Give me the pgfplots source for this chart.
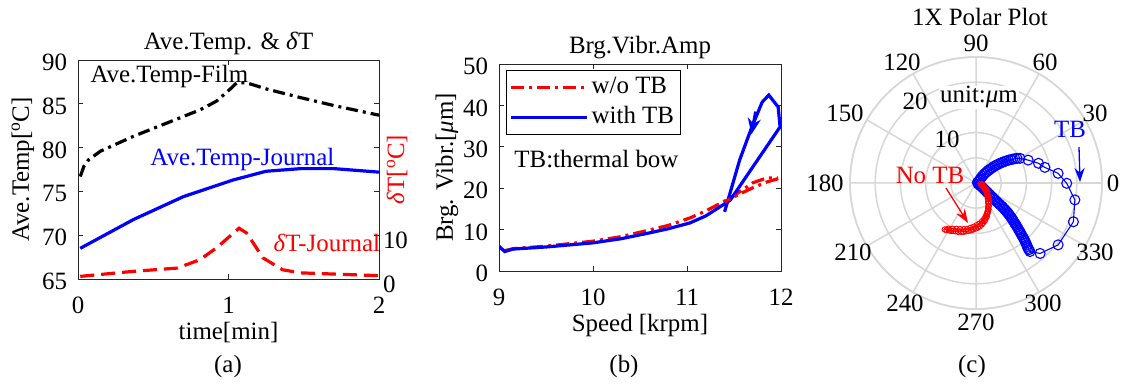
\documentclass[border=0pt]{standalone}
\usepackage{fontspec}
\setmainfont{Liberation Serif}
\usepackage{pgfplots}
\pgfplotsset{compat=1.18}
\usepgfplotslibrary{polar}
\usetikzlibrary{arrows.meta}
\definecolor{axgray}{RGB}{38,38,38}
\definecolor{gridgray}{RGB}{215,215,215}
\newcommand{\fs}{\fontsize{25}{29}\selectfont}
\begin{document}
\fs
\begin{tikzpicture}
\useasboundingbox (0bp,0bp) rectangle (1122bp,385bp);
\fill[white] (0bp,0bp) rectangle (1122bp,385bp);
\pgfplotsset{
  mybox/.style={scale only axis, anchor=south west,
    axis line style={axgray, line width=0.9bp},
    tick style={axgray, line width=0.9bp}, major tick length=5bp,
    /pgf/number format/assume math mode=true,
    font=\fs, tick label style={font=\fs},
    xticklabel style={anchor=base, yshift=-35bp},
    yticklabel style={xshift=-2.5bp, yshift=-2.5bp},
    title style={anchor=base, at={(axis description cs:0.5,1)}, yshift=5bp},
  },
}
% ---------------- panel (a), left axis
\begin{axis}[mybox, at={(78bp,106bp)}, width=301bp, height=219bp,
  xmin=0, xmax=2, ymin=65, ymax=90, xtick={0,1,2}, ytick={65,70,...,90},
  ytick pos=left,
  title={Ave.Temp. \& \textit{δ}T},
  xlabel={time[min]}, ylabel={Ave.Temp[\textsuperscript{o}C]},
  every axis x label/.style={at={(axis description cs:0.5,0)}, anchor=base, yshift=-60bp},
  every axis y label/.style={at={(axis description cs:0,0.5)}, xshift=-55bp, rotate=90, anchor=center},
]
\addplot[black, line width=3.2bp, dash pattern=on 12bp off 5bp on 3bp off 5bp] coordinates {
 (0.015,76.7) (0.04,77.9) (0.07,78.6) (0.15,79.6) (0.37,81.3) (0.59,82.8) (0.81,84.3) (0.92,85.3) (1.0,86.5) (1.055,87.4) (1.12,87.4) (1.25,86.7) (1.48,85.7) (1.70,84.8) (2.0,83.7)};
\addplot[blue, line width=3.2bp] coordinates {
 (0.015,68.5) (0.37,71.8) (0.70,74.4) (1.03,76.3) (1.25,77.3) (1.48,77.6) (1.70,77.6) (2.0,77.2)};
\node[anchor=base west, black] at (axis cs:0.027,87.4) {Ave.Temp-Film};
\node[anchor=base west, blue] at (axis cs:0.425,78.0) {Ave.Temp-Journal};
\node[anchor=base west, red] at (axis cs:1.243,68.1) {\textit{δ}T-Journal};
\end{axis}
% ---------------- panel (a), right axis
\begin{axis}[mybox, at={(78bp,106bp)}, width=301bp, height=219bp,
  xmin=0, xmax=2, ymin=0, ymax=50, axis x line=none, axis y line*=right,
  ytick={0,10,20,30,40,50}, yticklabels={0,10,{},{},{},{}},
  yticklabel style={xshift=-2bp, yshift=-2.5bp},
  ylabel={\textit{δ}T[\textsuperscript{o}C]},
  every axis y label/.style={at={(axis description cs:1,0.5)}, xshift=18bp, rotate=90, anchor=center, red},
]
\addplot[red, line width=3.2bp, dash pattern=on 14bp off 7bp] coordinates {
 (0.015,0.6) (0.37,1.75) (0.66,2.5) (0.81,4.4) (0.92,7.1) (1.07,11.6) (1.12,10.5) (1.23,4.8) (1.36,2.1) (1.48,1.4) (2.0,0.76)};
\end{axis}
\node[anchor=base] at (228bp,13bp) {(a)};
% ---------------- panel (b)
\begin{axis}[mybox, at={(499bp,114bp)}, width=282bp, height=207bp,
  xmin=9, xmax=12, ymin=0, ymax=50, xtick={9,10,11,12}, ytick={0,10,...,50},
  title={Brg.Vibr.Amp},
  xlabel={Speed [krpm]}, ylabel={Brg. Vibr.[\textit{μ}m]},
  every axis x label/.style={at={(axis description cs:0.5,0)}, anchor=base, yshift=-60bp},
  every axis y label/.style={at={(axis description cs:0,0.5)}, xshift=-52bp, rotate=90, anchor=center},
  legend cell align=left,
  legend style={at={(axis description cs:0.025,0.971)}, anchor=north west, draw=black, line width=0.9bp, fill=white,
    font=\fs, inner xsep=3bp, inner ysep=4bp, row sep=3bp, nodes={inner sep=3bp}},
  legend image code/.code={\draw[#1] (0bp,0bp) -- (76bp,0bp);},
]
\addplot[red, line width=3.2bp, dash pattern=on 13bp off 5bp on 3bp off 5bp] coordinates {
 (9.06,4.9) (9.15,5.4) (9.5,6.0) (10,7.2) (10.3,8.3) (10.6,9.9) (10.8,11.0) (11.03,12.8) (11.2,14.5) (11.46,17.6) (11.7,21.3) (11.85,22.5) (11.97,22.5)};
\addlegendentry{w/o TB}
\addplot[blue, line width=3.2bp] coordinates {
 (9,6.0) (9.06,4.7) (9.15,5.3) (9.5,5.8) (10,6.8) (10.3,7.8) (10.6,9.2) (10.8,10.2) (11.03,11.6) (11.2,13.3) (11.46,17.1) (11.72,25.8) (11.99,34.8) (11.97,39.6) (11.87,42.5) (11.80,40.8) (11.69,34.8) (11.56,26.8) (11.40,14.3)};
\addlegendentry{with TB}
\addplot[red, line width=3.2bp, dash pattern=on 13bp off 5bp on 3bp off 5bp, forget plot] coordinates {
 (11.97,22.3) (11.85,21.5) (11.7,20.1) (11.55,18.5) (11.4,16.7)};
\addplot[blue, line width=3bp, -{Stealth[length=16bp,width=13bp]}, forget plot] coordinates {(11.73,38.5) (11.685,33)};
\node[anchor=base west] at (axis cs:9.074,24.9) {TB:thermal bow};
\end{axis}
\node[anchor=base] at (624bp,13bp) {(b)};
% ---------------- panel (c)
\begin{polaraxis}[at={(976bp,202bp)}, anchor=center, width=252bp, height=252bp, scale only axis,
  ymin=0, ymax=25, ytick={5,10,15,20,25}, yticklabels={}, xtick={0,30,...,330}, xticklabels={},
  grid=major, major grid style={draw=gridgray, line width=1.5bp},
  axis line style={draw=gridgray, line width=1.5bp}, tick style={draw=none}, clip=false]
\addplot[blue, mark=o, mark size=5bp, line width=1.1bp, mark options={line width=1.1bp}] coordinates {
 (20,0.3) (30,0.6) (38,0.9) (43,1.2) (46,1.5) (47,1.9) (47.5,2.3) (47,2.7) (46.5,3.1) (45.5,3.5) (44.5,3.9) (43.8,4.3) (43,4.7) (42,5.1) (41,5.5) (40,5.9) (39,6.3) (38,6.7) (37,7.1) (36,7.5) (35,7.9) (34,8.3) (33,8.7) (32,9.1) (31,9.5) (29.3,10.0)
 (23.7,11.3) (17.5,13.0) (12.8,14.0) (6.7,16.4) (-0.2,18.0) (-9.7,19.9) (-21.7,20.8) (-37,20.4) (-47.7,18.9) (-51.8,17.3)
 (-51.6,16.9) (-51.5,16.6) (-51.1,16.2) (-50.7,15.9) (-50.3,15.5) (-50,15.2) (-49.6,14.8) (-49.3,14.5) (-49,14.1) (-48.7,13.7) (-48.3,13.3) (-48,13.0) (-47.6,12.6) (-47.3,12.3) (-46.9,11.9) (-46.5,11.6) (-46.2,11.3) (-46,11.0) (-45.5,10.6) (-45,10.3) (-44.6,9.9) (-44.3,9.6) (-43.9,9.2) (-43.5,8.9) (-43.2,8.6) (-43,8.3) (-42.7,7.9) (-42.5,7.6) (-42.3,7.2) (-42.2,6.9) (-42.1,6.5) (-42,6.2) (-42,5.8) (-42,5.5) (-41.7,5.1) (-41.5,4.8) (-41.2,4.4) (-41,4.1) (-40.5,3.7) (-40,3.4) (-39.5,3.0) (-39,2.7) (-38,2.3) (-37,2.0) (-35.5,1.7) (-34,1.4) (-32,1.1) (-30,0.9) (-25,0.5)};
\addplot[red, mark=o, mark size=2.8bp, line width=0.8bp, mark options={line width=0.9bp}] coordinates {
 (-10,1.0) (-15,1.3) (-20,1.5) (-26,1.8) (-30.6,2.1) (-35,2.5) (-40,2.8) (-45,3.2) (-49.5,3.6) (-53,4.0) (-56,4.4) (-59,4.8) (-62.5,5.3) (-65,5.7) (-67.5,6.1) (-70,6.5) (-72.4,7.0) (-75,7.3) (-77,7.7) (-80,8.0) (-82.2,8.3) (-85,8.6) (-87.5,8.8) (-90,9.0) (-93.3,9.2) (-96,9.4) (-99,9.6) (-102,9.8) (-104.6,10.0) (-107,10.1) (-110,10.3) (-113,10.4) (-115.3,10.5) (-117.5,10.7) (-119.5,10.8) (-122,11.0) (-123.8,11.1)
 (-121,10.6) (-117,10.2) (-113,9.9) (-109,9.7) (-105,9.5) (-101,9.3) (-97,9.0) (-93,8.7) (-89,8.4) (-85,8.1) (-81,7.7) (-77,7.3) (-73,6.8) (-69,6.3) (-65,5.8) (-61,5.2) (-57,4.6) (-52,4.0) (-47,3.4) (-41,2.8) (-35,2.2) (-28,1.6) (-20,1.2)};
\end{polaraxis}
\node[anchor=base] at (980bp,359bp) {1X Polar Plot};
\node at (976bp,342bp) {90};
\node at (1045bp,323bp) {60};
\node at (1095bp,272bp) {30};
\node at (1113bp,202bp) {0};
\node at (1095bp,133bp) {330};
\node at (1043bp,82bp) {300};
\node at (976bp,63bp) {270};
\node at (905bp,82bp) {240};
\node at (853bp,133bp) {210};
\node at (825bp,202bp) {180};
\node at (845bp,272bp) {150};
\node at (902bp,323bp) {120};
\node[anchor=base] at (947bp,237bp) {10};
\node[anchor=base] at (915bp,275bp) {20};
\node[anchor=base, fill=white, inner sep=1bp] at (979bp,282bp) {unit:\textit{μ}m};
\node[anchor=base, red] at (930bp,201bp) {No TB};
\node[anchor=base, blue] at (1070bp,247bp) {TB};
\draw[red, line width=1.3bp, -{Stealth[length=14bp,width=10bp]}] (946bp,197bp) -- (968bp,162bp);
\draw[blue, line width=1.3bp, -{Stealth[length=14bp,width=10bp]}] (1079bp,238bp) -- (1080bp,203bp);
\node[anchor=base] at (972bp,13bp) {(c)};
\end{tikzpicture}
\end{document}
